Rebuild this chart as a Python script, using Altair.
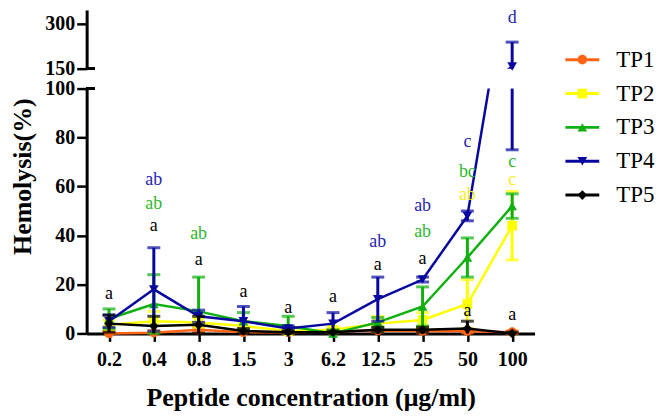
import altair as alt
import pandas as pd

conc = ["0.2", "0.4", "0.8", "1.5", "3", "6.2", "12.5", "25", "50", "100"]
series = ["TP1", "TP2", "TP3", "TP4", "TP5"]
colors = ["#ff6414", "#ffff00", "#10b010", "#0808a0", "#000000"]
shapes = ["circle", "square", "triangle-up", "triangle-down", "diamond"]

tp1 = [0.0, 0.3, 1.5, 0.5, 0.5, 0.8, 1.2, 1.0, 1.0, 0.5]
tp1_err = [0.8, 0.5, 1.0, 0.8, 0.5, 0.5, 0.8, 0.8, 0.8, 0.5]
tp2 = [3.5, 5.0, 4.5, 3.0, 1.0, 1.5, 4.0, 5.5, 12.0, 44.0]
tp2_err = [2.0, 4.0, 2.0, 2.0, 1.0, 1.0, 3.0, 3.0, 10.0, 14.0]
tp3 = [6.0, 12.0, 9.0, 5.0, 3.0, 0.0, 4.5, 11.0, 31.0, 52.0]
tp3_err = [4.0, 12.0, 14.0, 3.5, 4.0, 1.5, 2.0, 8.0, 8.0, 5.0]
tp4 = [5.0, 18.0, 7.0, 5.0, 2.0, 4.0, 14.0, 22.0, 48.0, 157.0]
tp4_err = [2.5, 17.0, 2.5, 6.0, 1.0, 4.5, 9.0, 1.0, 2.0, 82.0]
tp5 = [4.0, 3.0, 3.5, 1.0, 0.5, 0.5, 1.5, 1.5, 2.0, 0.0]
tp5_err = [3.5, 4.0, 3.5, 1.0, 0.5, 0.5, 1.0, 1.0, 3.0, 0.5]

means = [tp1, tp2, tp3, tp4, tp5]
errs = [tp1_err, tp2_err, tp3_err, tp4_err, tp5_err]

# significance letters
lab_conc = ["0.2", "0.4", "0.8", "1.5", "3", "6.2", "12.5", "25", "50", "100",
            "0.4", "0.8", "25", "50", "100",
            "0.4", "12.5", "25", "50", "100",
            "50", "100"]
lab_text = ["a", "a", "a", "a", "a", "a", "a", "a", "a", "a",
            "ab", "ab", "ab", "bc", "c",
            "ab", "ab", "ab", "c", "d",
            "ab", "c"]
lab_y = [16, 44, 30, 17, 10.5, 15, 28, 30.5, 9, 7.5,
         53, 40.5, 41.5, 66, 70,
         62.5, 37.5, 52, 78, 321,
         56.5, 62.5]
lab_grp = ["k"] * 10 + ["g"] * 5 + ["b"] * 5 + ["y"] * 2
lab_colors = {"k": "#000000", "g": "#2db82d", "b": "#2424b0", "y": "#f2ee1a"}

rows = []
for s, m, e in zip(series, means, errs):
    for c, v, d in zip(conc, m, e):
        rows.append({"series": s, "conc": c, "v": v, "lo": v - d, "hi": v + d})
df = pd.DataFrame(rows)
labs = pd.DataFrame({"conc": lab_conc, "txt": lab_text, "y": lab_y, "grp": lab_grp})

FONT = "Liberation Serif"
W = 450
LOW_TOP, UP_BOT, UP_TOP = 100, 150, 347

xscale = alt.Scale(type="point", padding=0.5, domain=conc)


def xenc(show):
    if show:
        return alt.X("conc:N", sort=conc, scale=xscale,
                     axis=alt.Axis(title="Peptide concentration (\u03bcg/ml)", labelAngle=0,
                                   labelFontSize=20, titleFontSize=26, tickSize=8,
                                   labelPadding=8, titlePadding=15))
    return alt.X("conc:N", sort=conc, scale=xscale, axis=None)


def panel(lo_b, hi_b, show_x, yaxis, height, brk):
    ysc = alt.Scale(domain=[lo_b, hi_b], nice=False, zero=False)
    layers = []
    for s, col, shp, m, e in zip(series, colors, shapes, means, errs):
        base = alt.Chart(df).transform_filter(alt.datum.series == s)
        needs_clip = max(m) > hi_b or min(m) < lo_b
        if hi_b > 120 and max(v + d for v, d in zip(m, e)) < lo_b:
            continue
        rule = base.transform_calculate(
            a=f"max(datum.lo, {lo_b})", b=f"min(datum.hi, {hi_b})"
        ).transform_filter("datum.a < datum.b").mark_rule(color=col, strokeWidth=3).encode(
            x=xenc(show_x), y=alt.Y("a:Q", scale=ysc, axis=yaxis), y2="b:Q")
        caph = base.transform_filter(f"datum.hi >= {lo_b} && datum.hi <= {hi_b}").mark_tick(
            color=col, thickness=3, size=13).encode(x=xenc(show_x), y=alt.Y("hi:Q", scale=ysc, axis=yaxis))
        capl = base.transform_filter(f"datum.lo >= {lo_b} && datum.lo <= {hi_b}").mark_tick(
            color=col, thickness=3, size=13).encode(x=xenc(show_x), y=alt.Y("lo:Q", scale=ysc, axis=yaxis))
        line = base.mark_line(color=col, strokeWidth=2.5, clip=needs_clip).encode(
            x=xenc(show_x), y=alt.Y("v:Q", scale=ysc, axis=yaxis))
        pts = base.transform_filter(f"datum.v >= {lo_b} && datum.v <= {hi_b}").mark_point(
            filled=True, opacity=1, color=col, shape=shp, size=95).encode(
            x=xenc(show_x), y=alt.Y("v:Q", scale=ysc, axis=yaxis))
        layers += [line, rule, caph, capl, pts]
    for g, gc in lab_colors.items():
        txt = alt.Chart(labs).transform_filter(
            f"datum.grp == '{g}' && datum.y >= {lo_b} && datum.y <= {hi_b}").mark_text(
            font=FONT, fontSize=18, baseline="middle", color=gc).encode(
            x=xenc(show_x), y=alt.Y("y:Q", scale=ysc, axis=yaxis), text="txt:N")
        layers.append(txt)
    # axis-break tick extending to the right of the axis
    layers.append(alt.Chart(df).mark_rule(color="black", strokeWidth=2.5).encode(
        y=alt.datum(brk), x=alt.value(0), x2=alt.value(8)))
    return alt.layer(*layers).properties(width=W, height=height)


up_axis = alt.Axis(values=[150, 300], title=None, labelFontSize=20, tickSize=10, grid=False, labelPadding=2)
low_axis = alt.Axis(values=[0, 20, 40, 60, 80, 100], title="Hemolysis(%)", labelFontSize=20, tickSize=10,
                    grid=False, labelPadding=2, titleFontSize=26, titleX=-64, titleY=88,
                    titleBaseline="middle", titleAngle=270)

upper = panel(UP_BOT, UP_TOP, False, up_axis, 59, 150)
lower = panel(0, LOW_TOP, True, low_axis, 246, 100)

leg = pd.DataFrame({"series": series})
ly = alt.Y("series:N", sort=series,
           scale=alt.Scale(type="point", domain=series, range=[50, 186], padding=0), axis=None)
lcol = alt.Color("series:N", scale=alt.Scale(domain=series, range=colors), legend=None)
lshape = alt.Shape("series:N", scale=alt.Scale(domain=series, range=shapes), legend=None)
legend = alt.layer(
    alt.Chart(leg).mark_rule(strokeWidth=3).encode(x=alt.value(9), x2=alt.value(43), y=ly, color=lcol),
    alt.Chart(leg).mark_point(filled=True, opacity=1, size=95).encode(
        x=alt.value(26), y=ly, color=lcol, shape=lshape),
    alt.Chart(leg).mark_text(font=FONT, fontSize=23, align="left", baseline="middle", color="black").encode(
        x=alt.value(60), y=ly, text="series:N"),
).properties(width=100, height=234)

left = alt.vconcat(upper, lower, spacing=0)
chart = alt.hconcat(left, legend, spacing=22).resolve_scale(color="independent", shape="independent").properties(
    padding={"left": 2, "top": -1, "right": 0, "bottom": 0}
).configure_view(stroke=None).configure_axis(
    domainColor="black", domainWidth=3, tickColor="black", tickWidth=2.5,
    labelColor="black", labelFont=FONT, labelFontWeight="bold",
    titleColor="black", titleFont=FONT, titleFontWeight="bold"
)

chart.save("out.html", embed_options={"renderer": "svg", "actions": False})
